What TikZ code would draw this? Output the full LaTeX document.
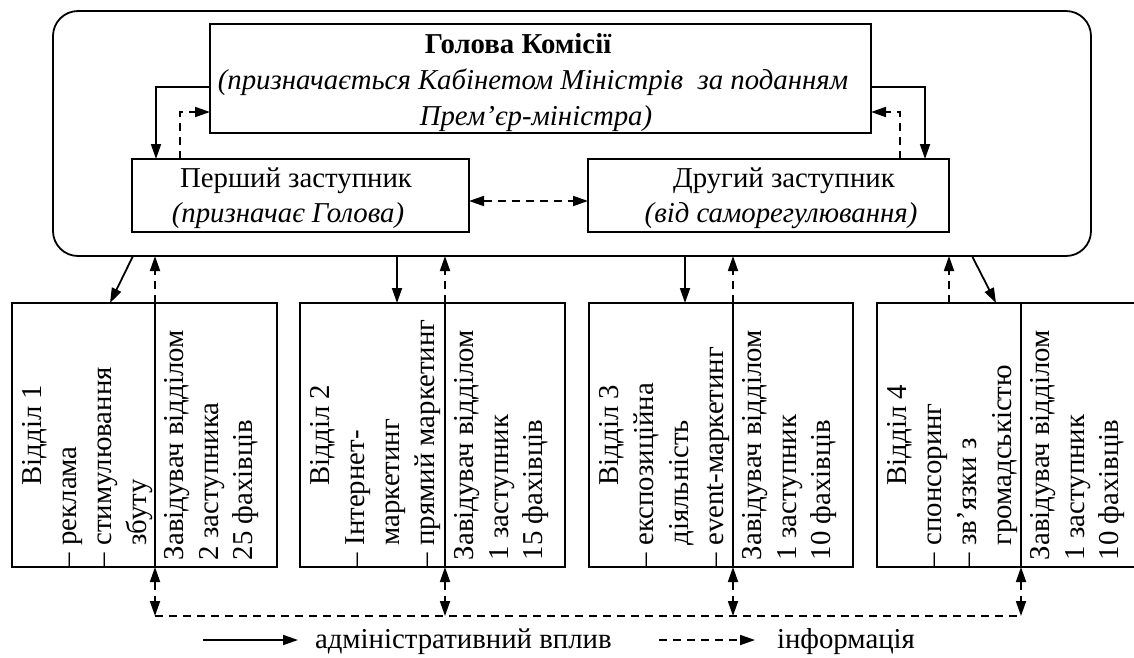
\documentclass[tikz,border=0pt]{standalone}
\usepackage{fontspec}
\setmainfont{Liberation Serif}
\usetikzlibrary{arrows.meta}
\begin{document}
\begin{tikzpicture}[x=1pt,y=-1pt,
  >={Triangle[length=15pt,width=10pt]},
  every node/.style={font=\fontsize{28.8}{35}\selectfont, inner sep=0pt, outer sep=0pt},
  box/.style={draw, line width=1.8pt},
  adm/.style={line width=1.8pt, ->},
  inf/.style={line width=1.8pt, dash pattern=on 8pt off 6pt, ->},
  infb/.style={line width=1.8pt, dash pattern=on 8pt off 6pt, <->},
  infl/.style={line width=1.8pt, dash pattern=on 8pt off 6pt},
  vt/.style={rotate=90, anchor=base west},
  vc/.style={rotate=90, anchor=base},
  tx/.style={anchor=base},
  it/.style={anchor=base, font=\fontsize{28.8}{35}\selectfont\itshape}]
\useasboundingbox (0,0) rectangle (1134,657);
\fill[white] (0,0) rectangle (1134,657);

% outer commission frame
\node[box, rounded corners=25pt, minimum width=1038pt, minimum height=245pt] (outer) at (572,133.5) {};
% head
\node[box, minimum width=661pt, minimum height=109pt] (head) at (540.5,78.5) {};
\node[tx, font=\fontsize{28.8}{35}\selectfont\bfseries] (h1) at (518,53) {Голова Комісії};
\node[it] (h2) at (533,89) {(призначається Кабінетом Міністрів~ за поданням};
\node[it] (h3) at (536,125) {Прем’єр-міністра)};
% deputies
\node[box, minimum width=337pt, minimum height=73pt] (first) at (300.5,195.5) {};
\node[tx] (f1) at (296,187) {Перший заступник};
\node[it] (f2) at (288,222) {(призначає Голова)};
\node[box, minimum width=361pt, minimum height=73pt] (second) at (768.5,195.5) {};
\node[tx] (s1) at (784,187) {Другий заступник};
\node[it] (s2) at (781,222) {(від саморегулювання)};

% helper coordinates
\coordinate (yA) at (0,87);
\coordinate (yB) at (0,112);
\coordinate (yE) at (0,201);
\coordinate (xA) at (156,0);
\coordinate (xB) at (180,0);
\coordinate (xC) at (925,0);
\coordinate (xD) at (900,0);

\draw[adm] (head.west |- yA) -| (first.north -| xA);
\draw[inf] (first.north -| xB) |- (head.west |- yB);
\draw[adm] (head.east |- yA) -| (second.north -| xC);
\draw[inf] (second.north -| xD) |- (head.east |- yB);
\draw[infb] (first.east |- yE) -- (second.west |- yE);

% departments
\node[box, minimum width=265pt, minimum height=264pt] (d1) at (144.5,435) {};
\node[box, minimum width=265pt, minimum height=264pt] (d2) at (432.5,435) {};
\node[box, minimum width=264pt, minimum height=264pt] (d3) at (721,435) {};
\node[box, minimum width=265pt, minimum height=264pt] (d4) at (1009.5,435) {};
\coordinate (v1) at (155,0);
\coordinate (v2) at (445,0);
\coordinate (v3) at (733,0);
\coordinate (v4) at (1021,0);
\draw[line width=1.8pt] (d1.north -| v1) -- (d1.south -| v1);
\draw[line width=1.8pt] (d2.north -| v2) -- (d2.south -| v2);
\draw[line width=1.8pt] (d3.north -| v3) -- (d3.south -| v3);
\draw[line width=1.8pt] (d4.north -| v4) -- (d4.south -| v4);

% department 1 texts
\node[vc] (a10) at (41,435) {Відділ 1};
\node[vt] (a11) at (76,567) {– реклама};
\node[vt] (a12) at (111,567) {– стимулювання};
\node[vt] (a13) at (146,567) {\hphantom{– }збуту};
\node[vt] (b11) at (183,560) {Завідувач відділом};
\node[vt] (b12) at (218,560) {2 заступника};
\node[vt] (b13) at (252,560) {25 фахівців};
% department 2 texts
\node[vc] (a20) at (329,435) {Відділ 2};
\node[vt] (a21) at (364,567) {– Інтернет-};
\node[vt] (a22) at (399,567) {\hphantom{– }маркетинг};
\node[vt] (a23) at (434,567) {– прямий маркетинг};
\node[vt] (b21) at (473,560) {Завідувач відділом};
\node[vt] (b22) at (508,560) {1 заступник};
\node[vt] (b23) at (542,560) {15 фахівців};
% department 3 texts
\node[vc] (a30) at (618,435) {Відділ 3};
\node[vt] (a31) at (653,567) {– експозиційна};
\node[vt] (a32) at (688,567) {\hphantom{– }діяльність};
\node[vt] (a33) at (723,567) {– event-маркетинг};
\node[vt] (b31) at (761,560) {Завідувач відділом};
\node[vt] (b32) at (796,560) {1 заступник};
\node[vt] (b33) at (830,560) {10 фахівців};
% department 4 texts
\node[vc] (a40) at (906,435) {Відділ 4};
\node[vt] (a41) at (941,567) {– спонсоринг};
\node[vt] (a42) at (976,567) {– зв’язки з};
\node[vt] (a43) at (1011,567) {\hphantom{– }громадськістю};
\node[vt] (b41) at (1049,560) {Завідувач відділом};
\node[vt] (b42) at (1084,560) {1 заступник};
\node[vt] (b43) at (1118,560) {10 фахівців};

% connectors commission <-> departments
\coordinate (s1a) at (133,0);
\coordinate (s1b) at (110,0);
\coordinate (s2) at (397,0);
\coordinate (s3) at (685,0);
\coordinate (i4) at (949,0);
\coordinate (s4a) at (972,0);
\coordinate (s4b) at (996,0);
\draw[adm] (outer.south -| s1a) -- (d1.north -| s1b);
\draw[inf] (d1.north -| v1) -- (outer.south -| v1);
\draw[adm] (outer.south -| s2) -- (d2.north -| s2);
\draw[inf] (d2.north -| v2) -- (outer.south -| v2);
\draw[adm] (outer.south -| s3) -- (d3.north -| s3);
\draw[inf] (d3.north -| v3) -- (outer.south -| v3);
\draw[inf] (d4.north -| i4) -- (outer.south -| i4);
\draw[adm] (outer.south -| s4a) -- (d4.north -| s4b);

% information bus
\coordinate (bus) at (0,616);
\draw[infb] (d1.south -| v1) -- (bus -| v1);
\draw[infb] (d2.south -| v2) -- (bus -| v2);
\draw[infb] (d3.south -| v3) -- (bus -| v3);
\draw[infb] (d4.south -| v4) -- (bus -| v4);
\draw[infl] (bus -| v1) -- (bus -| v4);

% legend
\coordinate (l1a) at (203,640);
\coordinate (l1b) at (298,640);
\coordinate (l2a) at (659,640);
\coordinate (l2b) at (755,640);
\draw[adm] (l1a) -- (l1b);
\node[anchor=base west] (lt1) at (315,648) {адміністративний вплив};
\draw[inf] (l2a) -- (l2b);
\node[anchor=base west] (lt2) at (777,648) {інформація};
\end{tikzpicture}
\end{document}
